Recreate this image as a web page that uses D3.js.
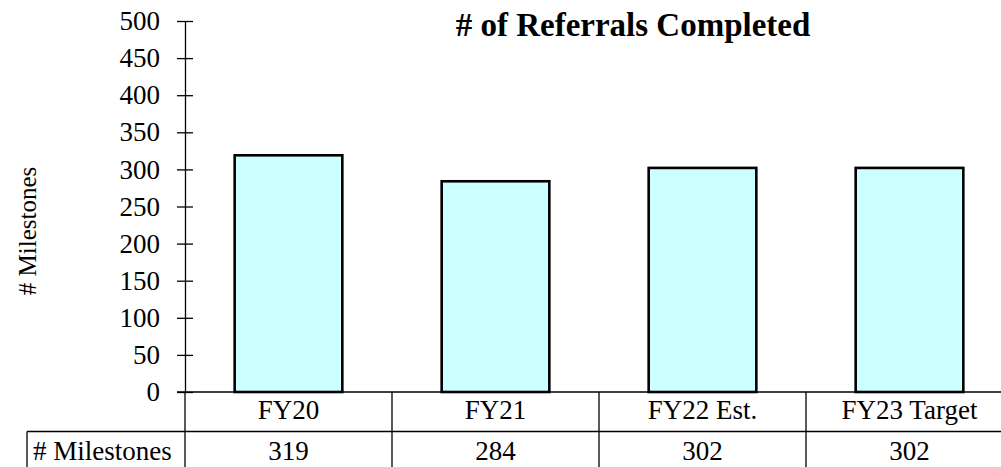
<!DOCTYPE html>
<html>
<head>
<meta charset="utf-8">
<script src="https://cdn.jsdelivr.net/npm/d3@7"></script>
<style>
  body { margin: 0; background: #fff; }
  text { font-family: "Liberation Serif", "DejaVu Serif", serif; fill: #000; }
</style>
</head>
<body>
<div id="chart"></div>
<script>
// chart data
var categories = ["FY20", "FY21", "FY22 Est.", "FY23 Target"];
var milestones = [319, 284, 302, 302];
var yTicks = [0, 50, 100, 150, 200, 250, 300, 350, 400, 450, 500];
var seriesName = "# Milestones";
var chartTitle = "# of Referrals Completed";

var svgWidth = 1001;
var svgHeight = 467;

var svg = d3.select("#chart")
  .append("svg")
  .attr("width", svgWidth)
  .attr("height", svgHeight);

var plotLeft = 185, plotTop = 21, plotBottom = 392, plotRight = 1013;
var rowH = 39.5;

var x = d3.scaleBand()
  .domain(categories)
  .range([plotLeft, plotRight])
  .paddingInner(0.48)
  .paddingOuter(0.24);

var y = d3.scaleLinear()
  .domain([0, 500])
  .range([plotBottom, plotTop]);

// y axis with crossing ticks
var yAxis = svg.append("g")
  .attr("transform", `translate(${plotLeft},0)`)
  .call(d3.axisLeft(y).tickValues(yTicks).tickSizeInner(8).tickSizeOuter(0).tickPadding(17));

yAxis.select(".domain").attr("stroke", "#000").attr("stroke-width", 1.3);
yAxis.selectAll(".tick line").attr("x1", 8).attr("x2", -8).attr("stroke", "#000").attr("stroke-width", 1.3);
yAxis.selectAll(".tick text")
  .style("font-family", "'Liberation Serif', serif")
  .style("font-size", "27px")
  .attr("fill", "#000");

// bars
svg.append("g").selectAll("rect")
  .data(milestones)
  .enter()
  .append("rect")
  .attr("x", (d, i) => x(categories[i]))
  .attr("y", d => y(d))
  .attr("width", x.bandwidth())
  .attr("height", d => y(0) - y(d))
  .attr("fill", "#ccffff")
  .attr("stroke", "#000")
  .attr("stroke-width", 2.6);

// data table lines
var step = x.step();
var table = svg.append("g").attr("stroke", "#000").attr("stroke-width", 1.3);
table.append("line")
  .attr("x1", plotLeft - 8).attr("x2", svgWidth)
  .attr("y1", plotBottom).attr("y2", plotBottom);
table.append("line")
  .attr("x1", 27).attr("x2", svgWidth)
  .attr("y1", plotBottom + rowH).attr("y2", plotBottom + rowH);
table.append("line")
  .attr("x1", 27).attr("x2", 27)
  .attr("y1", plotBottom + rowH).attr("y2", svgHeight);
table.selectAll(".col")
  .data(d3.range(categories.length + 1))
  .enter()
  .append("line")
  .attr("x1", i => plotLeft + i * step)
  .attr("x2", i => plotLeft + i * step)
  .attr("y1", plotBottom)
  .attr("y2", svgHeight);

// category labels and values
svg.append("g").selectAll("text")
  .data(categories)
  .enter()
  .append("text")
  .attr("x", (d, i) => plotLeft + (i + 0.5) * step)
  .attr("y", 419)
  .attr("text-anchor", "middle")
  .style("font-size", "27px")
  .text(d => d);

svg.append("g").selectAll("text")
  .data(milestones)
  .enter()
  .append("text")
  .attr("x", (d, i) => plotLeft + (i + 0.5) * step)
  .attr("y", 460)
  .attr("text-anchor", "middle")
  .style("font-size", "27px")
  .text(d => d);

svg.append("text")
  .attr("x", 33)
  .attr("y", 460)
  .style("font-size", "27px")
  .text(seriesName);

// y axis title
svg.append("text")
  .attr("transform", "translate(36,231) rotate(-90)")
  .attr("text-anchor", "middle")
  .style("font-size", "25px")
  .text(seriesName);

// title
svg.append("text")
  .attr("x", 633)
  .attr("y", 36)
  .attr("text-anchor", "middle")
  .style("font-size", "33px")
  .style("font-weight", "bold")
  .text(chartTitle);
</script>
</body>
</html>
